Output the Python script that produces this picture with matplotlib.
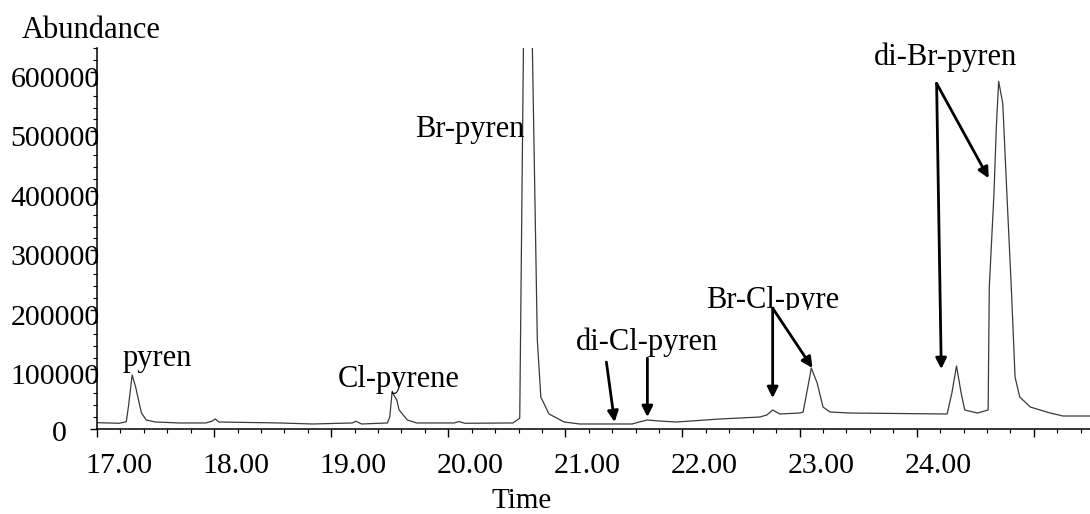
import numpy as np
import matplotlib
matplotlib.use("Agg")
import matplotlib.pyplot as plt
from matplotlib.ticker import MultipleLocator
from matplotlib.transforms import ScaledTranslation, Bbox, TransformedBbox

# --- chromatogram trace (time in min, abundance in counts) ---
time_min = [17.00, 17.19, 17.25, 17.27, 17.30, 17.33, 17.36, 17.38, 17.42, 17.50,
            17.70, 17.93, 17.98, 18.01, 18.04, 18.56, 18.84, 19.18, 19.21, 19.26,
            19.48, 19.50, 19.52, 19.56, 19.58, 19.65, 19.73, 20.05, 20.09, 20.14,
            20.55, 20.61, 20.67, 20.76, 20.79, 20.86, 20.99, 21.12, 21.57, 21.63,
            21.70, 21.80, 21.95, 22.32, 22.66, 22.72, 22.77, 22.83, 23.00, 23.03,
            23.07, 23.10, 23.15, 23.20, 23.26, 23.43, 24.26, 24.30, 24.34, 24.38,
            24.41, 24.52, 24.61, 24.62, 24.66, 24.68, 24.70, 24.735, 24.77, 24.81,
            24.84, 24.88, 24.97, 25.14, 25.25, 25.48]
abundance = [10600, 9600, 12200, 40000, 90600, 70500, 43600, 26800, 15100, 11750,
             10100, 10100, 13000, 16800, 11750, 10100, 8400, 10100, 13000, 8400,
             10100, 20100, 62100, 48700, 31900, 15100, 10100, 10100, 12500, 9600,
             10100, 18000, 1200000, 150000, 53700, 25200, 11750, 8400, 8400, 11750,
             15100, 13400, 11750, 16800, 20100, 23500, 31900, 25200, 26800, 28500,
             70000, 102400, 77200, 36900, 28500, 26800, 25200, 60000, 105700, 60000,
             31900, 26800, 31900, 238300, 396000, 506800, 584000, 547000, 396000, 228200,
             87300, 53700, 36900, 26800, 21800, 21800]

x_ticks = [17, 18, 19, 20, 21, 22, 23, 24, 25]
x_tick_labels = ["17.00", "18.00", "19.00", "20.00", "21.00", "22.00", "23.00", "24.00", ""]
y_ticks = [0, 100000, 200000, 300000, 400000, 500000, 600000]
y_tick_labels = ["0", "100000", "200000", "300000", "400000", "500000", "600000"]

peak_names = ["pyren", "Cl-pyrene", "Br-pyren", "di-Cl-pyren", "Br-Cl-pyre", "di-Br-pyren"]

plt.rcParams['font.family'] = ['Liberation Serif', 'DejaVu Serif']


def plot_chromatogram():
    fig = plt.figure(figsize=(10.9, 5.14), dpi=100)
    ax = fig.add_axes([0.089, 0.1654, 0.911, 0.7412])

    ax.plot(time_min, abundance, color='#3a3a3a', lw=0.9)

    ax.set_xlim(17.0, 25.48)
    ax.set_ylim(0, 640000)

    for side in ['top', 'right']:
        ax.spines[side].set_visible(False)
    for side in ['left', 'bottom']:
        ax.spines[side].set_linewidth(1.1)

    # ticks
    ax.set_xticks(x_ticks)
    ax.set_xticklabels(x_tick_labels)
    ax.xaxis.set_minor_locator(MultipleLocator(0.2))
    ax.set_yticks(y_ticks)
    ax.set_yticklabels(y_tick_labels)
    ax.yaxis.set_minor_locator(MultipleLocator(20000))
    ax.tick_params(axis='x', which='major', direction='out', length=6, width=1,
                   labelsize=21.5, pad=11)
    ax.tick_params(axis='x', which='minor', direction='out', length=3, width=0.8)
    ax.tick_params(axis='y', which='major', direction='out', length=5, width=1,
                   labelsize=21.5, pad=-7)
    ax.tick_params(axis='y', which='minor', direction='out', length=3, width=0.8)

    # labels on the scan sit a bit right of / below their ticks
    shift_x = ScaledTranslation(0.22, 0, fig.dpi_scale_trans)
    for lab in ax.get_xticklabels():
        lab.set_transform(lab.get_transform() + shift_x)
    shift_y = ScaledTranslation(0, -0.05, fig.dpi_scale_trans)
    shift_zero = ScaledTranslation(-0.33, -0.02, fig.dpi_scale_trans)
    for i, lab in enumerate(ax.get_yticklabels()):
        if i == 0:
            lab.set_transform(lab.get_transform() + shift_zero)
        else:
            lab.set_transform(lab.get_transform() + shift_y)

    ax.set_xlabel("Time", fontsize=21)
    ax.xaxis.set_label_coords(0.428, -0.207)
    ax.xaxis.label.set_va('baseline')
    fig.text(0.020, 0.926, "Abundance", fontsize=22, ha='left', va='baseline')

    # peak names
    fs = 22
    ax.text(17.517, 105700, peak_names[0], fontsize=fs, ha='center', va='baseline')
    ax.text(19.58, 70500, peak_names[1], fontsize=fs, ha='center', va='baseline')
    ax.text(20.184, 490000, peak_names[2], fontsize=fs, ha='center', va='baseline')
    ax.text(21.697, 132600, peak_names[3], fontsize=fs, ha='center', va='baseline')
    t_brcl = ax.text(22.77, 203000, peak_names[4], fontsize=fs, ha='center', va='baseline',
                     clip_on=True)
    # descenders of this label are cut off in the original
    t_brcl.set_clip_box(TransformedBbox(Bbox([[22.0, 200000], [23.6, 640000]]), ax.transData))
    ax.text(24.25, 610800, peak_names[5], fontsize=fs, ha='center', va='baseline',
            clip_on=False)

    arrow = dict(arrowstyle='-|>', color='black', lw=2, mutation_scale=16,
                 shrinkA=0, shrinkB=0)
    # di-Cl-pyren
    ax.annotate("", xy=(21.42, 11700), xytext=(21.35, 112400), arrowprops=arrow)
    ax.annotate("", xy=(21.70, 20100), xytext=(21.70, 119100), arrowprops=arrow)
    # Br-Cl-pyrene
    ax.annotate("", xy=(22.77, 52000), xytext=(22.77, 203000), arrowprops=arrow)
    ax.annotate("", xy=(23.11, 102400), xytext=(22.77, 203000), arrowprops=arrow)
    # di-Br-pyrene
    ax.annotate("", xy=(24.21, 100700), xytext=(24.17, 580600), arrowprops=arrow,
                annotation_clip=False)
    ax.annotate("", xy=(24.615, 421200), xytext=(24.17, 580600), arrowprops=arrow,
                annotation_clip=False)

    fig.savefig("out.png", dpi=100)


if __name__ == "__main__":
    plot_chromatogram()
